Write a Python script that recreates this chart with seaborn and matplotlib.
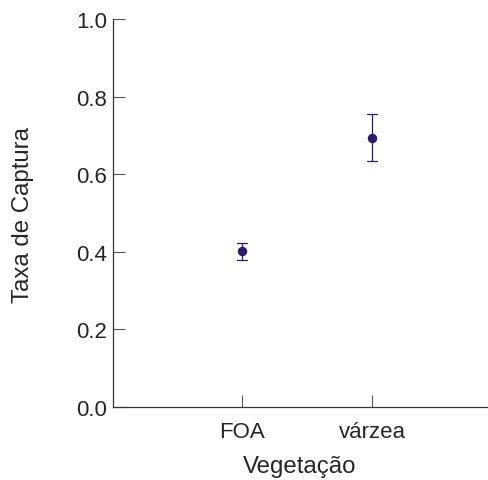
import matplotlib
matplotlib.use("Agg")
import matplotlib.pyplot as plt
import seaborn as sns
import pandas as pd

categories = ["FOA", "várzea"]
means = [0.402, 0.693]
lower = [0.379, 0.634]
upper = [0.423, 0.755]
yticks = [0.0, 0.2, 0.4, 0.6, 0.8, 1.0]

rows = []
for c, lo, m, hi in zip(categories, lower, means, upper):
    for v in (lo, m, hi):
        rows.append({"Vegetação": c, "Taxa": v})
df = pd.DataFrame(rows)

sns.set_style("white")
plt.rcParams["font.family"] = ["Liberation Sans", "DejaVu Sans"]

color = "#2e1a6f"
fig = plt.figure(figsize=(4.89, 4.81), dpi=100)
ax = fig.add_axes([113/489, (481-408)/481, (487-113)/489, (408-20)/481])

sns.pointplot(data=df, x="Vegetação", y="Taxa", estimator="median",
              errorbar=("pi", 100), color=color, linestyle="none",
              markersize=4.8, err_kws={"linewidth": 0.9}, capsize=0.075,
              ax=ax, order=categories)

ax.set_xlim(-0.99, 1.88)
ax.set_ylim(0, 1.0)
ax.set_yticks(yticks)
ax.set_yticklabels([f"{t:.1f}" for t in yticks])
for s in ["top", "right"]:
    ax.spines[s].set_visible(False)
for s in ["left", "bottom"]:
    ax.spines[s].set_color("#333333")
    ax.spines[s].set_linewidth(0.9)
ax.tick_params(axis="both", direction="in", length=8.5, width=0.8, color="#555555",
               labelsize=16, labelcolor="#262626", bottom=True, left=True)
ax.tick_params(axis="x", pad=10)
ax.tick_params(axis="y", pad=4)
ax.set_xlabel("Vegetação", fontsize=17.3, color="#262626")
ax.set_ylabel("Taxa de Captura", fontsize=17.3, color="#262626")
ax.xaxis.set_label_coords((300-113)/374, -(467-408)/388)
ax.xaxis.label.set_va("center")
ax.yaxis.set_label_coords(-(113-23)/374, (408-215)/388)
ax.yaxis.label.set_va("center")
fig.savefig("out.png", dpi=100)
